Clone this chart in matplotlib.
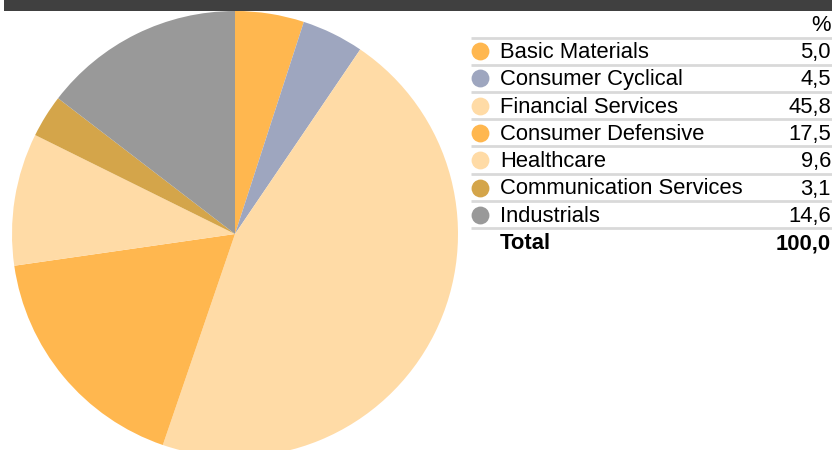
import matplotlib
matplotlib.use("Agg")
import matplotlib.pyplot as plt
from matplotlib.patches import Rectangle

plt.rcParams['font.family'] = ['Liberation Sans', 'DejaVu Sans']

categories = ["Basic Materials", "Consumer Cyclical", "Financial Services",
              "Consumer Defensive", "Healthcare", "Communication Services", "Industrials"]
values = [5.0, 4.5, 45.8, 17.5, 9.6, 3.1, 14.6]
colors = ["#FFB74F", "#9EA6BF", "#FFDBA6", "#FFB74F", "#FFDBA6", "#D4A54A", "#999999"]
total_label = "Total"
total_value = "100,0"
header = "%"

W, H = 832, 450
fig = plt.figure(figsize=(W / 100, H / 100), dpi=100)

# top dark bar + legend table in pixel coordinates
ov = fig.add_axes([0, 0, 1, 1])
ov.set_xlim(0, W)
ov.set_ylim(H, 0)
ov.axis("off")
ov.add_patch(Rectangle((4, 0), W - 4, 10.5, color="#404040", lw=0))

# pie
cx, cy, r = 235, 234, 223
ax = fig.add_axes([(cx - r) / W, (H - cy - r) / H, 2 * r / W, 2 * r / H])
ax.pie(values, colors=colors, startangle=90, counterclock=False,
       wedgeprops=dict(linewidth=0))
ax.set_xlim(-1, 1)
ax.set_ylim(-1, 1)
ax.set_aspect("equal")
ax.axis("off")

def fmt(v):
    return f"{v:.1f}".replace(".", ",")

x0, x1 = 471, 831
fs = 15.8
ov.text(x1, 25.5, header, ha="right", va="center", fontsize=fs)
ov.plot([x0, W], [37.5, 37.5], color="#D9D9D9", lw=2, solid_capstyle="butt")
row_h = 27.3
for i, (c, v, col) in enumerate(zip(categories, values, colors)):
    yy = 51 + i * row_h
    ov.scatter([480], [yy], s=165, color=col, lw=0)
    ov.text(500, yy + 1.5, c, ha="left", va="center", fontsize=fs)
    ov.text(x1, yy + 1.5, fmt(v), ha="right", va="center", fontsize=fs)
    ly = yy + 13.5
    ov.plot([x0, W], [ly, ly], color="#D9D9D9", lw=2, solid_capstyle="butt")
yt = 51 + len(categories) * row_h
ov.text(500, yt + 1.5, total_label, ha="left", va="center", fontsize=fs, fontweight="bold")
ov.text(x1, yt + 1.5, total_value, ha="right", va="center", fontsize=fs, fontweight="bold")

fig.savefig("out.png", dpi=100)
